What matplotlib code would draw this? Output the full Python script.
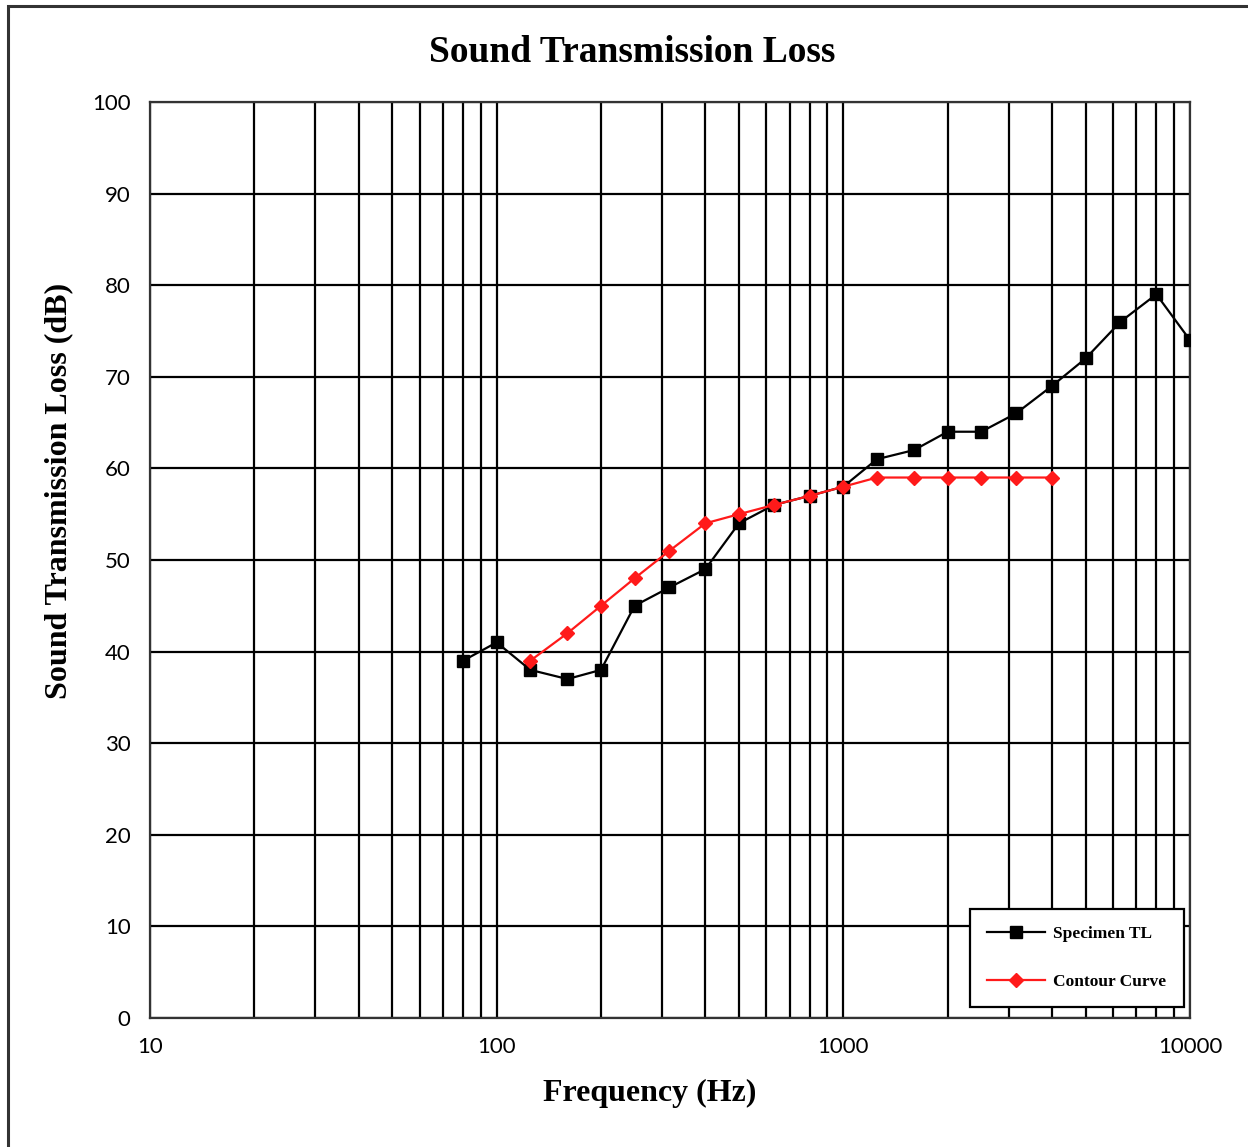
import matplotlib.pyplot as plt
from matplotlib.patches import Rectangle
from matplotlib.ticker import LogLocator, FixedLocator, NullFormatter

# third-octave band centre frequencies (Hz)
freq = [80, 100, 125, 160, 200, 250, 315, 400, 500, 630, 800, 1000,
        1250, 1600, 2000, 2500, 3150, 4000, 5000, 6300, 8000, 10000]
specimen_tl = [39, 41, 38, 37, 38, 45, 47, 49, 54, 56, 57, 58,
               61, 62, 64, 64, 66, 69, 72, 76, 79, 74]

contour_freq = [125, 160, 200, 250, 315, 400, 500, 630, 800, 1000,
                1250, 1600, 2000, 2500, 3150, 4000]
contour_tl = [39, 42, 45, 48, 51, 54, 55, 56, 57, 58,
              59, 59, 59, 59, 59, 59]

x_ticks = [10, 100, 1000, 10000]
y_ticks = list(range(0, 101, 10))

serif = 'Liberation Serif'
sans = 'Lato'

fig = plt.figure(figsize=(12.48, 11.47), dpi=100)
ax = fig.add_axes([0.1202, 0.1125, 0.8333, 0.7986])

ax.plot(freq, specimen_tl, color='black', marker='s', markersize=9,
        linewidth=1.6, label='Specimen TL', zorder=3)
ax.plot(contour_freq, contour_tl, color='#ff1a1a', marker='D', markersize=7.5,
        linewidth=1.6, label='Contour Curve', zorder=4)

ax.set_xscale('log')
ax.set_xlim(10, 10000)
ax.set_ylim(0, 100)
ax.xaxis.set_major_locator(FixedLocator(x_ticks))
ax.xaxis.set_minor_locator(LogLocator(base=10, subs=range(2, 10)))
ax.xaxis.set_minor_formatter(NullFormatter())
ax.set_xticklabels([str(t) for t in x_ticks])
ax.set_yticks(y_ticks)

ax.grid(True, which='both', axis='x', color='black', linewidth=1.6)
ax.grid(True, which='major', axis='y', color='black', linewidth=1.6)
ax.set_axisbelow(True)
ax.tick_params(which='both', length=0, pad=14)
for lab in ax.get_xticklabels() + ax.get_yticklabels():
    lab.set_fontfamily(sans)
    lab.set_fontsize(16)
for s in ax.spines.values():
    s.set_linewidth(1.6)
    s.set_color('#333333')

# title and axis labels sit a bit left of the plot centre, as in the original
fig.text(632 / 1248, 1 - 52 / 1147, 'Sound Transmission Loss', fontfamily=serif,
         fontweight='bold', fontsize=27, ha='center', va='center')
ax.set_xlabel('Frequency (Hz)', fontfamily=serif, fontweight='bold', fontsize=23)
ax.xaxis.set_label_coords((650 - 150) / 1040, -(1093 - 1018) / 916)
ax.xaxis.label.set_va('center')
ax.set_ylabel('Sound Transmission Loss (dB)', fontfamily=serif, fontweight='bold',
              fontsize=23)
ax.yaxis.set_label_coords(-(150 - 59) / 1040, (1018 - 491) / 916)
ax.yaxis.label.set_va('center')

leg = ax.legend(loc='lower right', bbox_to_anchor=(0.994, 0.012),
                borderaxespad=0,
                prop={'family': serif, 'weight': 'bold', 'size': 12.5},
                fancybox=False, edgecolor='black', framealpha=1,
                labelspacing=1.8, handlelength=3.3, handletextpad=0.5,
                borderpad=1.0)
leg.get_frame().set_linewidth(1.6)

# outer border of the picture
fig.patches.append(Rectangle((8 / 1248, -0.05), 1.1, 1 - 6 / 1147 + 0.05,
                             transform=fig.transFigure, fill=False,
                             edgecolor='#333333', linewidth=2.2))

fig.savefig('out.png', dpi=100)
